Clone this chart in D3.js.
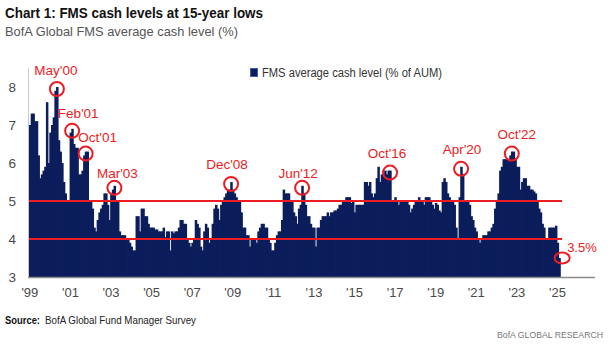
<!DOCTYPE html>
<html>
<head>
<meta charset="utf-8">
<title>FMS cash levels</title>
<script src="https://cdn.jsdelivr.net/npm/d3@7"></script>
<style>
  body { margin: 0; background: #fff; }
  svg text { font-family: "Liberation Sans Narrow", "Liberation Sans", Arial, sans-serif; }
</style>
</head>
<body>
<div id="chart"></div>
<script>
// monthly FMS average cash level (% of AUM), Jan 1999 .. Feb 2025
const startYear = 1999;
const cashLevels = [
  7.0, 7.3, 7.3, 7.1, 7.1, 6.2, 5.6, 5.7, 5.8, 5.9, 7.6, 6.0,        // 1999
  6.8, 7.0, 7.2, 7.9, 8.0, 6.6, 6.3, 6.0, 5.5, 5.2, 5.0, 5.0,        // 2000
  6.8, 6.9, 6.5, 6.4, 6.4, 5.7, 5.7, 5.8, 6.2, 6.3, 6.3, 5.0,        // 2001
  5.0, 4.8, 4.3, 4.2, 4.5, 4.7, 4.8, 4.9, 5.2, 5.2, 4.9, 4.5,        // 2002
  5.2, 5.3, 5.4, 5.0, 5.0, 4.2, 4.1, 4.1, 4.1, 4.0, 4.0, 3.9,        // 2003
  3.8, 3.7, 3.7, 4.6, 4.6, 4.2, 4.8, 4.8, 4.6, 4.6, 4.4, 4.3,        // 2004
  4.3, 4.3, 4.25, 4.25, 4.2, 4.2, 4.2, 4.3, 4.05, 4.2, 4.2, 3.7,     // 2005
  4.2, 4.15, 4.2, 4.2, 4.3, 4.5, 4.5, 4.4, 4.4, 4.0, 3.9, 3.8,       // 2006
  3.9, 4.0, 4.5, 4.4, 4.3, 3.8, 3.7, 4.2, 4.4, 4.3, 3.9, 4.0,        // 2007
  4.4, 4.8, 4.9, 4.8, 4.5, 4.9, 5.0, 5.1, 5.2, 5.3, 5.3, 5.5,        // 2008
  5.3, 5.2, 5.1, 5.0, 5.0, 4.7, 4.3, 4.3, 4.1, 4.1, 3.8, 4.0,        // 2009
  4.0, 4.0, 3.9, 4.2, 4.3, 4.4, 4.4, 4.3, 4.3, 4.0, 3.9, 3.7,        // 2010
  3.7, 3.9, 4.1, 4.2, 4.2, 4.5, 5.3, 5.2, 5.2, 5.2, 5.0, 5.0,        // 2011
  4.7, 4.6, 4.4, 4.8, 4.9, 5.4, 5.2, 4.9, 4.6, 4.6, 4.4, 4.3,        // 2012
  4.3, 3.8, 4.3, 4.3, 4.5, 4.6, 4.6, 4.6, 4.7, 4.6, 4.7, 4.7,        // 2013
  4.75, 4.75, 4.8, 4.9, 4.9, 5.0, 5.0, 5.1, 5.1, 5.1, 4.95, 5.0,     // 2014
  4.7, 4.9, 4.9, 4.9, 4.9, 4.9, 5.5, 5.5, 5.4, 5.5, 5.2, 5.1,        // 2015
  5.2, 5.6, 5.9, 5.5, 5.7, 5.7, 5.8, 5.7, 5.8, 5.8, 5.0, 5.0,        // 2016
  5.1, 5.0, 4.9, 5.0, 5.0, 5.0, 5.0, 5.0, 4.9, 4.7, 4.8, 4.9,        // 2017
  5.0, 5.0, 5.1, 5.0, 5.0, 4.9, 5.1, 5.1, 5.1, 5.0, 4.9, 4.8,        // 2018
  4.95, 4.9, 4.75, 4.7, 5.5, 5.6, 5.5, 5.2, 5.1, 5.0, 5.0, 4.9,      // 2019
  4.3, 4.0, 5.1, 5.9, 5.7, 5.0, 5.0, 5.0, 4.9, 4.6, 4.5, 4.3,        // 2020
  4.2, 4.0, 3.9, 4.0, 4.1, 4.1, 4.1, 4.2, 4.2, 4.3, 4.4, 4.8,        // 2021
  5.0, 5.2, 5.8, 5.9, 6.1, 6.1, 6.1, 6.1, 6.2, 6.3, 6.3, 6.1,        // 2022
  5.9, 5.9, 5.3, 5.5, 5.6, 5.6, 5.4, 5.4, 5.3, 5.3, 5.25, 5.2,       // 2023
  5.0, 4.8, 4.7, 4.4, 4.3, 4.0, 4.0, 4.3, 4.3, 4.3, 4.3, 4.35,       // 2024
  3.9, 3.5                                                          // 2025
];

const yTicks = [3, 4, 5, 6, 7, 8];
const xTickYears = [1999, 2001, 2003, 2005, 2007, 2009, 2011, 2013, 2015, 2017, 2019, 2021, 2023, 2025];
const thresholds = [5, 4];

const peakLabels = ["May'00", "Feb'01", "Oct'01", "Mar'03", "Dec'08", "Jun'12", "Oct'16", "Apr'20", "Oct'22"];
const peakYears  = [2000, 2001, 2001, 2003, 2008, 2012, 2016, 2020, 2022];
const peakMonths = [5, 2, 10, 3, 12, 6, 10, 4, 10];
const lastLabel = "3.5%";

// label nudges (layout only)
const labelDx = {"May'00": -1, "Feb'01": 6, "Oct'01": 12, "Mar'03": 3, "Dec'08": -4, "Jun'12": -4, "Oct'16": -3, "Apr'20": 1, "Oct'22": 5};
const labelDy = {"May'00": -14, "Feb'01": -13, "Oct'01": -12, "Mar'03": -10, "Dec'08": -15, "Jun'12": -10, "Oct'16": -15, "Apr'20": -15, "Oct'22": -15};

const W = 612, H = 348;
const navy = "#0b1d5b", red = "#ec1c24";
const font = "'Liberation Sans Narrow', 'Liberation Sans', Arial, sans-serif";

const svg = d3.select("#chart").append("svg")
    .attr("width", W).attr("height", H);

const x = d3.scaleBand()
    .domain(d3.range(cashLevels.length))
    .range([29, 560])
    .padding(0);
const y = d3.scaleLinear().domain([3, 8]).range([277, 87]);
const mid = i => x(i) + x.bandwidth() / 2;
const idx = (yr, mo) => (yr - startYear) * 12 + mo - 1;

// titles
svg.append("text").attr("x", 5).attr("y", 18)
    .attr("font-size", 14).attr("font-weight", "bold").attr("fill", "#111")
    .attr("textLength", 258).attr("lengthAdjust", "spacingAndGlyphs")
    .text("Chart 1: FMS cash levels at 15-year lows");
svg.append("text").attr("x", 5).attr("y", 36)
    .attr("font-size", 13.5).attr("fill", "#555")
    .attr("textLength", 233).attr("lengthAdjust", "spacingAndGlyphs")
    .text("BofA Global FMS average cash level (%)");

// bars
svg.append("g").selectAll("rect")
    .data(cashLevels)
    .enter()
    .append("rect")
    .attr("x", (d, i) => x(i))
    .attr("width", x.bandwidth() + 0.8)
    .attr("y", d => y(d))
    .attr("height", d => y(3) - y(d))
    .attr("fill", navy);

// axis lines
svg.append("line").attr("x1", 28.5).attr("x2", 28.5).attr("y1", y(8.5)).attr("y2", 277)
    .attr("stroke", "#c8c8c8").attr("stroke-width", 1);
svg.append("line").attr("x1", 28).attr("x2", 595).attr("y1", 277.5).attr("y2", 277.5)
    .attr("stroke", "#8a8a8a").attr("stroke-width", 1.5);

// threshold lines
svg.selectAll(".thr")
    .data(thresholds)
    .enter()
    .append("line")
    .attr("x1", 29).attr("x2", 562)
    .attr("y1", d => y(d)).attr("y2", d => y(d))
    .attr("stroke", red).attr("stroke-width", 2);

// axes
const yAxis = d3.axisLeft(y).tickValues(yTicks).tickFormat(d3.format("d"))
    .tickSize(0).tickPadding(13);
const gy = svg.append("g").attr("transform", "translate(29,0)").call(yAxis);
gy.select(".domain").remove();
gy.selectAll("text").attr("font-size", 13.5).attr("fill", "#4a4a4a")
    .style("font-family", font);

const xAxis = d3.axisBottom(x)
    .tickValues(xTickYears.map(yr => idx(yr, 1)))
    .tickFormat(i => "'" + String(startYear + i / 12).slice(2))
    .tickSize(0).tickPadding(11);
const gx = svg.append("g").attr("transform", "translate(0,277)").call(xAxis);
gx.select(".domain").remove();
gx.selectAll("text").attr("font-size", 13).attr("fill", "#4a4a4a")
    .style("font-family", font);

// legend
svg.append("rect").attr("x", 250.5).attr("y", 68.5).attr("width", 7).attr("height", 8)
    .attr("fill", navy).attr("stroke", "#3f5fa8").attr("stroke-width", 1);
svg.append("text").attr("x", 262).attr("y", 77)
    .attr("font-size", 12.5).attr("fill", "#333")
    .attr("textLength", 180).attr("lengthAdjust", "spacingAndGlyphs")
    .text("FMS average cash level (% of AUM)");

// peak annotations
const peaks = peakLabels.map((lab, k) => {
  const i = idx(peakYears[k], peakMonths[k]);
  return {label: lab, i: i, v: cashLevels[i]};
});
const ann = svg.append("g");
ann.selectAll("circle")
    .data(peaks)
    .enter()
    .append("circle")
    .attr("cx", d => mid(d.i))
    .attr("cy", d => y(d.v) + 2)
    .attr("r", 7)
    .attr("fill", "none")
    .attr("stroke", red)
    .attr("stroke-width", 2);
ann.selectAll("text")
    .data(peaks)
    .enter()
    .append("text")
    .attr("x", d => mid(d.i) + labelDx[d.label])
    .attr("y", d => y(d.v) + 2 + labelDy[d.label])
    .attr("text-anchor", "middle")
    .attr("font-size", 13.5)
    .attr("fill", red)
    .text(d => d.label);

// latest reading
const last = cashLevels.length - 1;
svg.append("ellipse")
    .attr("cx", mid(last) + 3).attr("cy", y(cashLevels[last]))
    .attr("rx", 7.5).attr("ry", 5.5)
    .attr("fill", "none").attr("stroke", red).attr("stroke-width", 2);
svg.append("text")
    .attr("x", mid(last) + 8).attr("y", y(cashLevels[last]) - 6)
    .attr("font-size", 13).attr("fill", red)
    .text(lastLabel);

// footer
svg.append("text").attr("x", 5).attr("y", 324)
    .attr("font-size", 10.5).attr("font-weight", "bold").attr("fill", "#111")
    .attr("textLength", 35).attr("lengthAdjust", "spacingAndGlyphs")
    .text("Source:");
svg.append("text").attr("x", 45).attr("y", 324)
    .attr("font-size", 10.5).attr("fill", "#222")
    .attr("textLength", 151).attr("lengthAdjust", "spacingAndGlyphs")
    .text("BofA Global Fund Manager Survey");
svg.append("text").attr("x", 603).attr("y", 338)
    .attr("text-anchor", "end")
    .attr("font-size", 9.5).attr("fill", "#777")
    .attr("textLength", 106).attr("lengthAdjust", "spacingAndGlyphs")
    .text("BofA GLOBAL RESEARCH");
</script>
</body>
</html>
